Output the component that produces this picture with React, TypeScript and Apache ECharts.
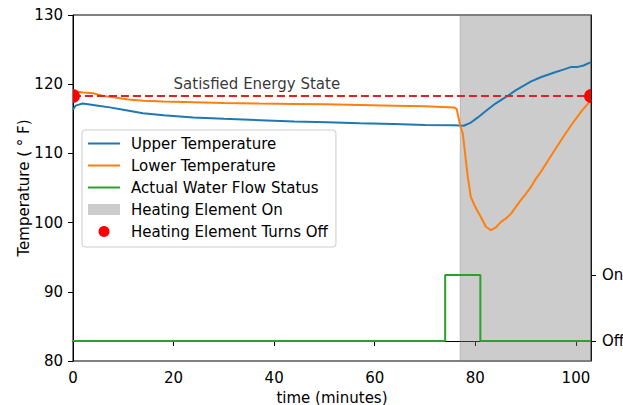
import React, { useEffect, useRef } from "react";
import * as echarts from "echarts";

// ---- data ----
const upperTime = [0, 0.5, 1.9, 3, 5, 7.3, 10, 13.9, 18, 23.9, 30, 37.2, 44, 50.5, 57, 63.8, 70, 75.8, 77.7, 79, 80.5, 82.4, 84, 86.4, 88, 91.1, 93, 95.7, 97.5, 99.1, 100.4, 101.5, 103];
const upperTemp = [116.3, 116.9, 117.2, 117.1, 116.9, 116.65, 116.3, 115.8, 115.5, 115.2, 115.0, 114.8, 114.6, 114.5, 114.35, 114.25, 114.1, 114.06, 114.0, 114.4, 115.2, 116.3, 117.2, 118.3, 119.1, 120.4, 121.0, 121.7, 122.1, 122.5, 122.5, 122.7, 123.2];

const lowerTime = [0, 1, 2, 4, 6, 8, 11, 14, 18, 24, 30, 37, 44, 50, 57, 64, 70, 75.8, 76.3, 77, 77.5, 78.5, 79.1, 80.1, 81.1, 82.1, 83.1, 84.1, 85.1, 86.1, 87.1, 88.1, 89.1, 90.1, 91.1, 92.1, 93.1, 94.4, 95.8, 97.4, 99.1, 101, 103];
const lowerTemp = [118.9, 118.9, 118.8, 118.7, 118.3, 118.1, 117.8, 117.6, 117.5, 117.4, 117.3, 117.2, 117.15, 117.1, 117.0, 116.9, 116.8, 116.65, 116.4, 114.0, 112.9, 106.6, 103.7, 102.1, 100.8, 99.4, 98.9, 99.3, 100.1, 100.6, 101.3, 102.3, 103.3, 104.2, 105.2, 106.4, 107.4, 108.9, 110.5, 112.3, 114.1, 116.0, 117.7];

const flowTime = [0, 74, 81, 103];
const flowStatus = [0, 1, 0, 0];
const flowLabels = ["Off", "On"];

const heatStart = [77];
const heatEnd = [103];

const setpoint = 118.3;
const setpointTime = [0, 103];
const turnOffTime = [0, 103];
const turnOffTemp = [118.3, 118.3];

const annotText = ["Satisfied Energy State"];
const annotX = [20];
const annotY = [120];

const xTicks = [0, 20, 40, 60, 80, 100];
const yTicks = [80, 90, 100, 110, 120, 130];

const FONT = "DejaVu Sans";
const FS = 15;

export default function App() {
  const ref = useRef<HTMLDivElement>(null);
  useEffect(() => {
    if (!ref.current) return;
    const chart = echarts.init(ref.current, null, { renderer: "svg" });
    const lineLegend = { itemStyle: { opacity: 0, borderWidth: 0 } };
    const option: any = {
      animation: false,
      backgroundColor: "#ffffff",
      textStyle: { fontFamily: FONT },
      grid: {
        left: 73,
        right: 32,
        top: 15,
        bottom: 44,
        containLabel: false,
        outerBoundsMode: "none",
        show: true,
        borderColor: "#000",
        borderWidth: 1,
        backgroundColor: "transparent",
      },
      legend: {
        orient: "vertical",
        left: 82,
        top: 130,
        padding: [5, 8, 7, 5],
        itemWidth: 32,
        itemHeight: 11,
        itemGap: 5,
        backgroundColor: "rgba(255,255,255,0.85)",
        borderColor: "#cccccc",
        borderWidth: 1,
        borderRadius: 3,
        textStyle: { fontFamily: FONT, fontSize: FS, color: "#000", padding: [0, 0, 0, 6], lineHeight: 17 },
        data: [
          { name: "Upper Temperature", ...lineLegend },
          { name: "Lower Temperature", ...lineLegend },
          { name: "Actual Water Flow Status", ...lineLegend },
          { name: "Heating Element On", icon: "rect" },
          { name: "Heating Element Turns Off", icon: "circle" },
        ],
      },
      xAxis: {
        type: "value",
        min: 0,
        max: 103,
        interval: 20,
        name: "time (minutes)",
        nameLocation: "middle",
        nameGap: 29,
        nameMoveOverlap: false,
        nameTextStyle: { fontFamily: FONT, fontSize: FS, color: "#000" },
        axisLine: { show: true, lineStyle: { color: "#000", width: 1 } },
        axisTick: { show: true, length: 5, lineStyle: { color: "#000" }, customValues: xTicks },
        axisLabel: { fontFamily: FONT, fontSize: FS, color: "#000", margin: 9, customValues: xTicks },
        splitLine: { show: false },
      },
      yAxis: [
        {
          type: "value",
          min: 80,
          max: 130,
          interval: 10,
          name: "Temperature ( \u00b0 F)",
          nameLocation: "middle",
          nameGap: 42,
          nameMoveOverlap: false,
          nameTextStyle: { fontFamily: FONT, fontSize: FS, color: "#000" },
          axisLine: { show: true, lineStyle: { color: "#000", width: 1 } },
          axisTick: { show: true, length: 5, lineStyle: { color: "#000" }, customValues: yTicks },
          axisLabel: { fontFamily: FONT, fontSize: FS, color: "#000", margin: 10, customValues: yTicks },
          splitLine: { show: false },
        },
        {
          type: "value",
          position: "right",
          min: -20 / 66,
          max: 326 / 66,
          axisLine: { show: true, lineStyle: { color: "#000", width: 1 } },
          axisTick: { show: true, length: 5, lineStyle: { color: "#000" }, customValues: [0, 1] },
          axisLabel: {
            fontFamily: FONT,
            fontSize: FS,
            color: "#000",
            margin: 11,
            customValues: [0, 1],
            formatter: (v: number) => flowLabels[Math.round(v)] ?? "",
          },
          splitLine: { show: false },
        },
      ],
      series: [
        {
          name: "Heating Element On",
          type: "custom",
          z: 1,
          itemStyle: { color: "rgba(128,128,128,0.4)" },
          encode: { x: [0, 1] },
          data: heatStart.map((s, i) => [s, heatEnd[i]]),
          renderItem: (params: any, api: any) => {
            const cs = params.coordSys;
            const x0 = api.coord([api.value(0), 80])[0];
            const x1 = api.coord([api.value(1), 80])[0];
            return {
              type: "rect",
              shape: { x: x0, y: cs.y, width: x1 - x0, height: cs.height },
              style: { fill: "rgba(128,128,128,0.4)", stroke: "rgba(128,128,128,0.4)", lineWidth: 1 },
            };
          },
        },
        {
          name: "Upper Temperature",
          type: "line",
          z: 3,
          symbol: "none",
          color: "#1f77b4",
          lineStyle: { color: "#1f77b4", width: 2 },
          data: upperTime.map((t, i) => [t, upperTemp[i]]),
        },
        {
          name: "Lower Temperature",
          type: "line",
          z: 3,
          symbol: "none",
          color: "#ff7f0e",
          lineStyle: { color: "#ff7f0e", width: 2 },
          data: lowerTime.map((t, i) => [t, lowerTemp[i]]),
        },
        {
          name: "Actual Water Flow Status",
          type: "line",
          z: 3,
          yAxisIndex: 1,
          symbol: "none",
          step: "end",
          color: "#2ca02c",
          lineStyle: { color: "#2ca02c", width: 2 },
          data: flowTime.map((t, i) => [t, flowStatus[i]]),
        },
        {
          name: "Satisfied Energy Setpoint",
          type: "line",
          z: 4,
          symbol: "none",
          color: "#dc2226",
          lineStyle: { color: "#dc2226", width: 2, type: [8, 4] },
          data: setpointTime.map((t) => [t, setpoint]),
        },
        {
          name: "Annotation",
          type: "scatter",
          z: 5,
          symbolSize: 0,
          silent: true,
          data: annotX.map((x, i) => ({ value: [x, annotY[i]], label: { formatter: annotText[i] } })),
          label: {
            show: true,
            position: [0, 0],
            align: "left",
            verticalAlign: "middle",
            fontFamily: FONT,
            fontSize: FS,
            color: "#000",
          },
        },
        {
          name: "Heating Element Turns Off",
          type: "custom",
          z: 6,
          clip: true,
          itemStyle: { color: "#ff0000" },
          data: turnOffTime.map((t, i) => [t, turnOffTemp[i]]),
          renderItem: (params: any, api: any) => {
            const cs = params.coordSys;
            const p = api.coord([api.value(0), api.value(1)]);
            const r = 7;
            // the axes clip the marker: keep only the part inside the plot
            if (p[0] <= cs.x + 0.5) {
              return {
                type: "sector",
                shape: { cx: p[0], cy: p[1], r, r0: 0, startAngle: -Math.PI / 2, endAngle: Math.PI / 2 },
                style: { fill: "#ff0000" },
              };
            }
            if (p[0] >= cs.x + cs.width - 0.5) {
              return {
                type: "sector",
                shape: { cx: p[0], cy: p[1], r, r0: 0, startAngle: Math.PI / 2, endAngle: (3 * Math.PI) / 2 },
                style: { fill: "#ff0000" },
              };
            }
            return { type: "circle", shape: { cx: p[0], cy: p[1], r }, style: { fill: "#ff0000" } };
          },
        },
      ],
    };
    chart.setOption(option);
    return () => chart.dispose();
  }, []);
  return (
    <div
      ref={ref}
      style={{ position: "fixed", left: 0, top: 0, width: 623, height: 405, background: "#fff" }}
    />
  );
}
